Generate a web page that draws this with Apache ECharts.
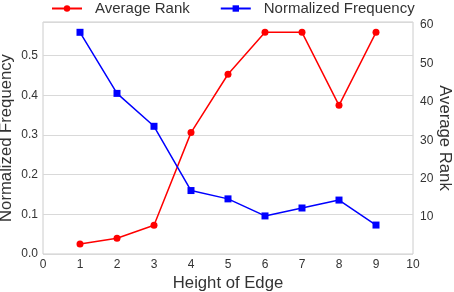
<!DOCTYPE html>
<html><head><meta charset="utf-8">
<script src="https://cdn.jsdelivr.net/npm/echarts@6/dist/echarts.min.js"></script>
<style>html,body{margin:0;padding:0;background:#fff}#c{width:454px;height:292px}</style>
</head><body><div id="c"></div>
<script>
const heights = [1, 2, 3, 4, 5, 6, 7, 8, 9];
const averageRank = [3.0, 4.5, 7.9, 32.0, 47.2, 58.1, 58.1, 39.1, 58.1];
const normalizedFrequency = [0.559, 0.405, 0.322, 0.160, 0.139, 0.096, 0.116, 0.136, 0.073];
const xTicks = [0, 1, 2, 3, 4, 5, 6, 7, 8, 9, 10];

const font = 'Liberation Sans';
const txt = '#333';
const nameSize = 16.7;
const chart = echarts.init(document.getElementById('c'), null, {renderer: 'canvas'});
chart.setOption({
  animation: false,
  backgroundColor: '#fff',
  textStyle: {fontFamily: font},
  legend: {
    top: 1, left: 51, padding: 0, itemWidth: 30, itemHeight: 8, itemGap: 30,
    textStyle: {fontFamily: font, fontSize: 15, color: txt, padding: [0, 0, 0, 8]},
    data: ['Average Rank', 'Normalized Frequency']
  },
  grid: {left: 43, right: 41, top: 22, bottom: 38, outerBoundsMode: 'none', containLabel: false,
    show: true, borderColor: '#cccccc', borderWidth: 1},
  xAxis: {
    type: 'value', min: xTicks[0], max: xTicks[xTicks.length - 1], interval: 1,
    name: 'Height of Edge', nameLocation: 'middle', nameGap: 21, nameMoveOverlap: false,
    nameTextStyle: {fontFamily: font, fontSize: nameSize, color: txt},
    axisLine: {show: false}, axisTick: {show: false}, splitLine: {show: false},
    axisLabel: {fontFamily: font, fontSize: 12, color: txt, margin: 5}
  },
  yAxis: [
    {
      type: 'value', min: 0, max: 0.585, interval: 0.1, position: 'left',
      name: 'Normalized Frequency', nameLocation: 'middle', nameGap: 28, nameMoveOverlap: false,
      nameTextStyle: {fontFamily: font, fontSize: nameSize, color: txt},
      axisLine: {show: false}, axisTick: {show: false},
      splitLine: {show: true, lineStyle: {color: '#d9d9d9', width: 1}},
      axisLabel: {fontFamily: font, fontSize: 12, color: txt, margin: 5, showMaxLabel: false,
        formatter: v => v.toFixed(1)}
    },
    {
      type: 'value', min: 0.4, max: 60.8, splitNumber: 6, position: 'right',
      name: 'Average Rank', nameLocation: 'middle', nameGap: 23, nameRotate: -90, nameMoveOverlap: false,
      nameTextStyle: {fontFamily: font, fontSize: nameSize, color: txt},
      axisLine: {show: false}, axisTick: {show: false}, splitLine: {show: false},
      axisLabel: {fontFamily: font, fontSize: 12, color: txt, margin: 7, showMinLabel: false, showMaxLabel: false,
        formatter: v => (Math.abs(v / 10 - Math.round(v / 10)) < 1e-6 && v > 1) ? String(Math.round(v)) : ''}
    }
  ],
  series: [
    {
      name: 'Average Rank', type: 'line', yAxisIndex: 1,
      data: heights.map((h, i) => [h, averageRank[i]]),
      symbol: 'circle', symbolSize: 7, showAllSymbol: true,
      lineStyle: {color: '#ff0000', width: 1.5}, itemStyle: {color: '#ff0000'}
    },
    {
      name: 'Normalized Frequency', type: 'line', yAxisIndex: 0,
      data: heights.map((h, i) => [h, normalizedFrequency[i]]),
      symbol: 'rect', symbolSize: 7, showAllSymbol: true,
      lineStyle: {color: '#0000ff', width: 1.5}, itemStyle: {color: '#0000ff'}
    }
  ]
});
</script></body></html>
